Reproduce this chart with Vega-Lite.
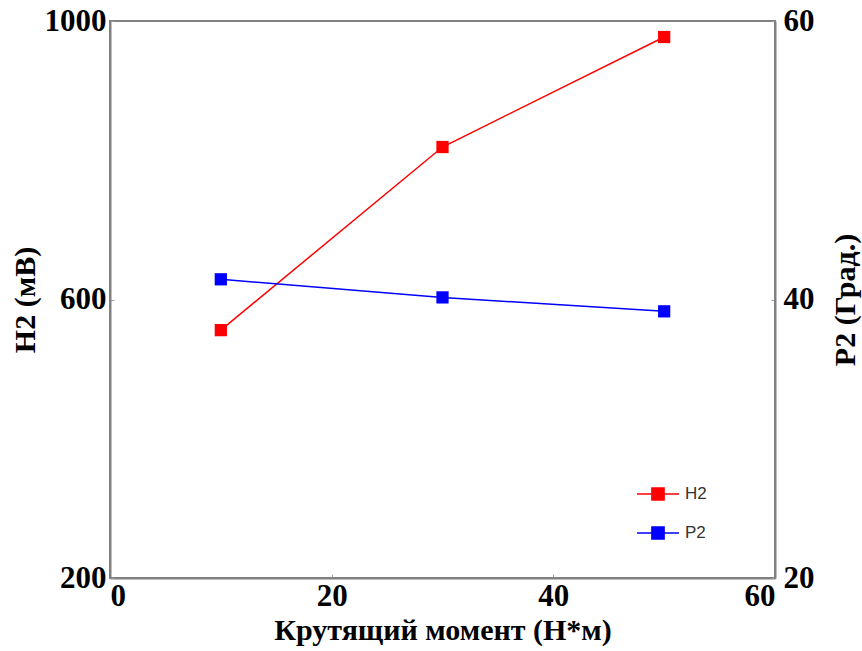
{
  "$schema": "https://vega.github.io/schema/vega-lite/v6.json",
  "width": 665,
  "height": 557,
  "autosize": {"type": "none"},
  "padding": {"left": 110, "top": 21, "right": 87, "bottom": 73},
  "background": "white",
  "config": {
    "view": {"stroke": "#808080", "strokeWidth": 2},
    "axis": {
      "grid": false,
      "domainColor": "#808080",
      "domainWidth": 2,
      "tickColor": "#999999",
      "tickSize": -4,
      "labelFont": "Liberation Serif",
      "labelFontWeight": "bold",
      "labelFontSize": 31,
      "labelColor": "#000000",
      "titleFont": "Liberation Serif",
      "titleFontWeight": "bold",
      "titleFontSize": 30,
      "titleColor": "#000000"
    }
  },
  "data": {
    "values": [
      {"torque": 10, "series": "H2", "value": 556},
      {"torque": 30, "series": "H2", "value": 819},
      {"torque": 50, "series": "H2", "value": 977},
      {"torque": 10, "series": "P2", "value": 41.45},
      {"torque": 30, "series": "P2", "value": 40.15},
      {"torque": 50, "series": "P2", "value": 39.15}
    ]
  },
  "encoding": {
    "x": {
      "field": "torque",
      "type": "quantitative",
      "scale": {"domain": [0, 60], "nice": false},
      "axis": {
        "title": "Крутящий момент (Н*м)",
        "values": [0, 20, 40, 60],
        "format": "d",
        "labelPadding": 7,
        "labelFlush": true,
        "titlePadding": 4
      }
    },
    "color": {
      "field": "series",
      "type": "nominal",
      "scale": {"domain": ["H2", "P2"], "range": ["#ff0000", "#0000ff"]},
      "legend": {
        "title": null,
        "orient": "none",
        "legendX": 526,
        "legendY": 451,
        "padding": 0,
        "symbolType": "M-1,0H1M-0.29,-0.29H0.29V0.29H-0.29Z",
        "symbolSize": 1764,
        "symbolStrokeWidth": 1.5,
        "labelFont": "Liberation Sans",
        "labelFontSize": 17,
        "labelColor": "#333333",
        "labelOffset": 5,
        "rowPadding": 7,
        "encode": {
          "symbols": {
            "update": {
              "fill": {"scale": "color", "field": "value"},
              "fillOpacity": {"value": 1}
            }
          }
        }
      }
    }
  },
  "layer": [
    {
      "transform": [{"filter": "datum.series === 'H2'"}],
      "mark": {"type": "line", "strokeWidth": 1.5, "point": {"shape": "square", "size": 150, "filled": true, "opacity": 1}},
      "encoding": {
        "y": {
          "field": "value",
          "type": "quantitative",
          "scale": {"domain": [200, 1000], "nice": false},
          "axis": {
            "title": "H2 (мВ)",
            "orient": "left",
            "values": [200, 600, 1000],
            "format": "d",
            "labelPadding": 8,
            "titlePadding": 4
          }
        }
      }
    },
    {
      "transform": [{"filter": "datum.series === 'P2'"}],
      "mark": {"type": "line", "strokeWidth": 1.5, "point": {"shape": "square", "size": 150, "filled": true, "opacity": 1}},
      "encoding": {
        "y": {
          "field": "value",
          "type": "quantitative",
          "scale": {"domain": [20, 60], "nice": false},
          "axis": {
            "title": "P2 (Град.)",
            "orient": "right",
            "values": [20, 40, 60],
            "format": "d",
            "labelPadding": 12,
            "titlePadding": 46,
            "titleAngle": 270
          }
        }
      }
    }
  ],
  "resolve": {"scale": {"y": "independent"}}
}
